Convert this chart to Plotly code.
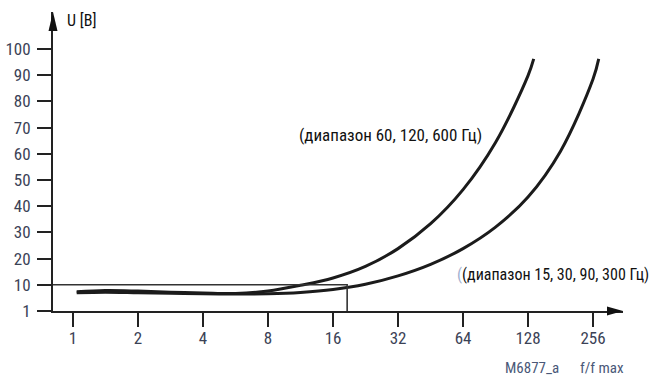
import math
import plotly.graph_objects as go

# ---- data ----
# curve "(диапазон 60, 120, 600 Гц)"
f_a = [1.04, 1.41, 2, 2.83, 4, 5.66, 8, 11.3, 16, 22.6, 32, 45.3, 64, 90.5, 128, 136]
u_a = [7.3, 7.8, 7.6, 7.2, 6.9, 6.7, 7.6, 9.8, 12.6, 17.0, 23.8, 33.3, 46.3, 64.3, 89.8, 96.2]
# curve "(диапазон 15, 30, 90, 300 Гц)"
f_b = [1.04, 1.41, 2, 2.83, 4, 5.66, 8, 11.3, 16, 22.6, 32, 45.3, 64, 90.5, 128, 181, 256, 272]
u_b = [7.0, 7.2, 7.0, 6.8, 6.6, 6.5, 6.6, 7.1, 8.2, 10.2, 13.4, 17.8, 23.8, 32.0, 43.5, 61.0, 88.5, 96.2]

# threshold box
u_limit = [10, 10, 0]
f_limit = 18.6

x_ticks = [1, 2, 4, 8, 16, 32, 64, 128, 256]
x_labels = ["1", "2", "4", "8", "16", "32", "64", "128", "256"]
y_ticks = [0, 10, 20, 30, 40, 50, 60, 70, 80, 90, 100]
y_labels = ["1", "10", "20", "30", "40", "50", "60", "70", "80", "90", "100"]

label_a = "(диапазон 60, 120, 600 Гц)"
label_b = "(диапазон 15, 30, 90, 300 Гц)"

# ---- layout constants ----
X_RANGE = [-0.0927, 2.547]     # log10
Y_RANGE = [0, 114.1]
FONT = "Liberation Sans Narrow, Arial Narrow, Roboto Condensed, Liberation Sans, sans-serif"
TICK_COLOR = "#3b4256"
CURVE_COLOR = "#1b1b1b"

x_min = 10 ** X_RANGE[0]

fig = go.Figure()
fig.add_trace(go.Scatter(x=f_a, y=u_a, mode="lines",
                         line=dict(color=CURVE_COLOR, width=3, shape="spline", smoothing=1.0),
                         hoverinfo="skip", showlegend=False))
fig.add_trace(go.Scatter(x=f_b, y=u_b, mode="lines",
                         line=dict(color=CURVE_COLOR, width=3, shape="spline", smoothing=1.0),
                         hoverinfo="skip", showlegend=False))
fig.add_trace(go.Scatter(x=[x_min, f_limit, f_limit], y=u_limit, mode="lines",
                         line=dict(color="#333333", width=1.6),
                         hoverinfo="skip", showlegend=False, cliponaxis=False))

fig.update_layout(
    width=664, height=378,
    margin=dict(l=53, r=41, t=12, b=67),
    paper_bgcolor="white", plot_bgcolor="white",
    font=dict(family=FONT, size=16, color=TICK_COLOR),
    xaxis=dict(type="log", range=X_RANGE, tickvals=x_ticks, ticktext=x_labels,
               automargin=False,
               showgrid=False, zeroline=False, showline=True, linewidth=2, linecolor="#222",
               ticks="outside", ticklen=14, tickwidth=2, tickcolor="#222",
               tickfont=dict(family=FONT, size=17, color=TICK_COLOR), ticklabelstandoff=-3),
    yaxis=dict(range=Y_RANGE, tickvals=y_ticks, ticktext=y_labels,
               automargin=False,
               showgrid=False, zeroline=False, showline=True, linewidth=2, linecolor="#222",
               ticks="outside", ticklen=14, tickwidth=2, tickcolor="#222",
               tickfont=dict(family=FONT, size=17, color=TICK_COLOR), ticklabelstandoff=3),
)

# axis arrowheads
fig.add_shape(type="path", xref="paper", yref="paper", xsizemode="pixel", ysizemode="pixel",
              xanchor=0, yanchor=1, path="M0,0 L-4.5,-19 L4.5,-19 Z",
              fillcolor="#111", line=dict(width=0))
fig.add_shape(type="path", xref="paper", yref="paper", xsizemode="pixel", ysizemode="pixel",
              xanchor=1, yanchor=0, path="M0,0 L-16,4.5 L-16,-4.5 Z",
              fillcolor="#111", line=dict(width=0))

def ann(text, x, y, xref="x", yref="y", color="#111", size=16):
    fig.add_annotation(text=text, x=x, y=y, xref=xref, yref=yref, showarrow=False,
                       xanchor="left", yanchor="middle",
                       font=dict(family=FONT, size=size, color=color))

ann("U [B]", -0.037, 111)                     # log10 coords on log axis
ann(label_a, math.log10(10.9), 67.2, size=17)
ann('<span style="color:#9fb0d0">(</span>' + label_b, math.log10(58.8), 14.1)
ann("M6877_a", 0.789, -0.19, xref="paper", yref="paper", color="#4a5878", size=15)
ann("f/f max", 0.921, -0.19, xref="paper", yref="paper", color="#4a5878", size=15)

fig.write_html("out.html", config={"displayModeBar": False},
               post_script="document.body.style.margin='0';document.body.style.padding='0';")
